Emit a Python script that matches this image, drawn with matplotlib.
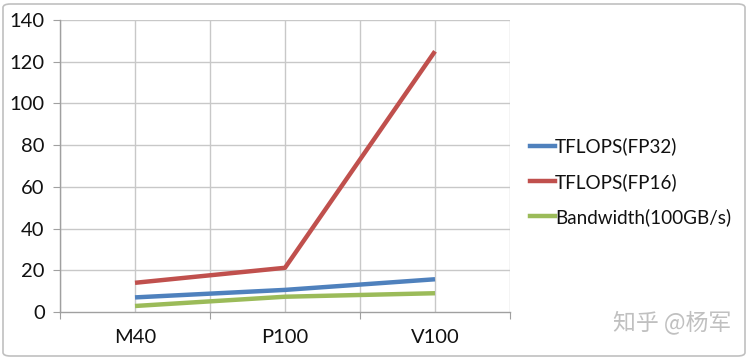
import matplotlib
matplotlib.use("Agg")
import matplotlib.pyplot as plt
from matplotlib.patches import FancyBboxPatch
from matplotlib.lines import Line2D

categories = ["M40", "P100", "V100"]
fp32 = [7.0, 10.6, 15.7]
fp16 = [14.0, 21.2, 125.0]
bandwidth = [2.88, 7.32, 9.0]
series_names = ["TFLOPS(FP32)", "TFLOPS(FP16)", "Bandwidth(100GB/s)"]
colors = ["#4F81BD", "#C0504D", "#9BBB59"]
yticks = [0, 20, 40, 60, 80, 100, 120, 140]

FONT = ["Lato", "DejaVu Sans"]
plt.rcParams['font.family'] = FONT
plt.rcParams['text.color'] = "#111111"

fig = plt.figure(figsize=(7.48, 3.59), dpi=100)
ax = fig.add_axes([60/748, 47/359, 450/748, 292/359])

grid_c = "#C8C8C8"
x = list(range(len(categories)))
ax.set_xlim(-0.5, len(categories) - 0.5)
ax.set_ylim(0, 140)

# gridlines
for yv in yticks[1:]:
    ax.axhline(yv, color=grid_c, lw=1, zorder=1)
for xv in [i - 0.5 for i in range(len(categories) + 1)] + x:
    ax.axvline(xv, color=grid_c, lw=1, zorder=1)

for vals, c in zip([fp32, fp16, bandwidth], colors):
    ax.plot(x, vals, color=c, lw=3.2, solid_capstyle='butt', zorder=3)

ax.set_yticks(yticks)
ax.set_yticklabels([str(v) for v in yticks], fontsize=14.5, color="#111111")
ax.set_xticks([i - 0.5 for i in range(len(categories) + 1)])
ax.set_xticklabels([])
ax.set_xticks(x, minor=True)
ax.set_xticklabels(categories, minor=True, fontsize=14.5, color="#111111")
ax.tick_params(axis='x', which='minor', length=0, pad=12)
ax.tick_params(axis='x', which='major', length=5, color="#A0A0A0", direction='out')
ax.tick_params(axis='y', length=5, color="#A0A0A0", pad=6)
for s in ['top', 'right']:
    ax.spines[s].set_visible(False)
for s in ['left', 'bottom']:
    ax.spines[s].set_color("#A0A0A0")
    ax.spines[s].set_linewidth(1)
ax.set_facecolor("none")

handles = [Line2D([0], [0], color=c, lw=3.2) for c in colors]
fig.legend(handles, series_names, loc='upper left', bbox_to_anchor=(522/748, 1 - 130/359),
           frameon=False, fontsize=13.6, handlelength=1.35, handletextpad=0.0,
           labelspacing=0.92, borderaxespad=0)

fig.text(731/748, 1 - 322/359, "知乎 @杨军", ha='right', va='center', fontsize=16.5,
         color="#C0C0C0", family=["Noto Sans CJK SC", "DejaVu Sans"])

border = FancyBboxPatch((3/748, 3/359), 742/748, 352/359, boxstyle="round,pad=0,rounding_size=0.01",
                        transform=fig.transFigure, fill=False, edgecolor="#C0C0C0", lw=1.2)
fig.patches.append(border)

fig.savefig("out.png", dpi=100)
